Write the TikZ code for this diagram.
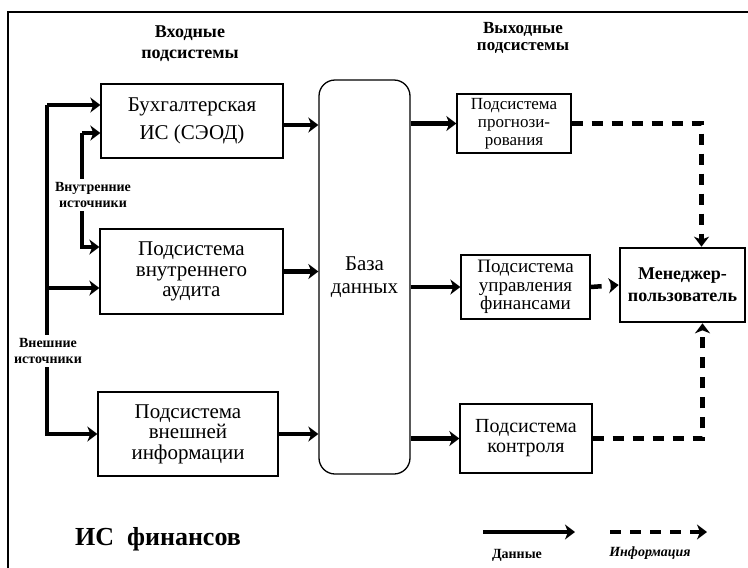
\documentclass[tikz,border=0pt]{standalone}
\usepackage{fontspec}
\setmainfont{Liberation Serif}
\usetikzlibrary{arrows.meta,calc}
\tikzset{
  box/.style={draw, line width=1.3pt, inner sep=0pt, align=center},
  txt/.style={font=\fontsize{21}{20.5}\selectfont},
  data/.style={line width=4.5pt, -{Stealth[length=10pt,width=15pt,inset=3pt]}},
  dataline/.style={line width=4.5pt},
  info/.style={line width=4.5pt, dash pattern=on 11pt off 9pt, -{Stealth[length=10pt,width=15pt,inset=3pt]}},
  title/.style={align=center, inner sep=0pt},
  srclbl/.style={align=center, inner sep=3pt, font=\bfseries\fontsize{14}{16.5}\selectfont},
}
\begin{document}
\begin{tikzpicture}[x=1pt,y=-1pt]
\useasboundingbox (0,0) rectangle (748,568);
% frame
\draw[line width=1.5pt] (8,568) -- (8,12) -- (748,12);
% titles
\node[title, font=\bfseries\fontsize{18}{21}\selectfont] (tin) at (190,44) {Входные\\подсистемы};
\node[title, font=\bfseries\fontsize{17}{17}\selectfont] (tout) at (523,38) {Выходные\\подсистемы};
% input boxes
\node[box, font=\fontsize{21}{28}\selectfont, minimum width=182pt, minimum height=74pt] (buh) at (192,121) {Бухгалтерская\\ИС (СЭОД)};
\node[box, txt, minimum width=183pt, minimum height=85pt] (aud) at (191.5,271.5) {Подсистема\\внутреннего\\аудита};
\node[box, txt, minimum width=180pt, minimum height=84pt] (ext) at (188,434) {Подсистема\\внешней\\информации};
% database
\node[box, rounded corners=16pt, minimum width=91pt, minimum height=394pt, font=\fontsize{21}{23}\selectfont] (db) at (364.5,277) {База\\данных};
% output boxes
\node[box, font=\fontsize{17}{18}\selectfont, minimum width=114pt, minimum height=59pt] (prog) at (514,123.5) {Подсистема\\прогнози-\\рования};
\node[box, font=\fontsize{19}{18.5}\selectfont, minimum width=129pt, minimum height=64pt] (fin) at (525.5,287) {Подсистема\\управления\\финансами};
\node[box, font=\fontsize{20}{20}\selectfont, minimum width=132pt, minimum height=69pt] (ctl) at (526,438.5) {Подсистема\\контроля};
\node[box, line width=2.6pt, font=\bfseries\fontsize{18}{22}\selectfont, minimum width=125pt, minimum height=74pt] (mgr) at (682.5,285) {Менеджер-\\пользователь};
% source labels
\node[srclbl] (intl) at (93,195) {Внутренние\\источники};
\node[srclbl] (extl) at (48,351) {Внешние\\источники};
% source lines
\coordinate (o1) at (47,105);
\coordinate (o2) at (47,288);
\coordinate (i1) at (82,133);
\coordinate (i2) at (82,247);
\draw[dataline] (o1) -- (extl.north -| o1);
\draw[data] (o1) -- (o1 -| buh.west);
\draw[data] (o2) -- (o2 -| aud.west);
\draw[data] (extl.south -| o1) |- (ext.west);
\draw[dataline] (i1) -- (intl.north -| i1);
\draw[data] (i1) -- (i1 -| buh.west);
\draw[data] (intl.south -| i2) -- (i2) -- (i2 -| aud.west);
% to database
\draw[data] ([yshift=-4pt]buh.east) -- ([yshift=-4pt]buh.east -| db.west);
\draw[data] (aud.east) -- (aud.east -| db.west);
\draw[data] (ext.east) -- (ext.east -| db.west);
% from database
\draw[data] (db.east |- prog.west) -- (prog.west);
\draw[data] (db.east |- fin.west) -- (fin.west);
\draw[data] (db.east |- ctl.west) -- (ctl.west);
% information
\draw[info] (prog.east) -| ([xshift=19pt]mgr.north);
\draw[info] (fin.east) -- (mgr.west);
\draw[info] (ctl.east) -| ([xshift=20pt]mgr.south);
% title
\node[anchor=base, inner sep=0pt, font=\bfseries\fontsize{26}{26}\selectfont] (name) at (158,545) {ИС \ финансов};
% legend
\coordinate (l1) at (483,532);
\coordinate (l2) at (575,532);
\coordinate (l3) at (610,532);
\coordinate (l4) at (707,532);
\draw[line width=4pt, -{Stealth[length=10pt,width=15pt,inset=3pt]}] (l1) -- (l2);
\draw[info] (l3) -- (l4);
\node[inner sep=0pt, font=\bfseries\fontsize{14}{14}\selectfont] (ld) at (517,555) {Данные};
\node[inner sep=0pt, font=\bfseries\itshape\fontsize{14}{14}\selectfont] (li) at (650,553) {Информация};
\end{tikzpicture}
\end{document}
